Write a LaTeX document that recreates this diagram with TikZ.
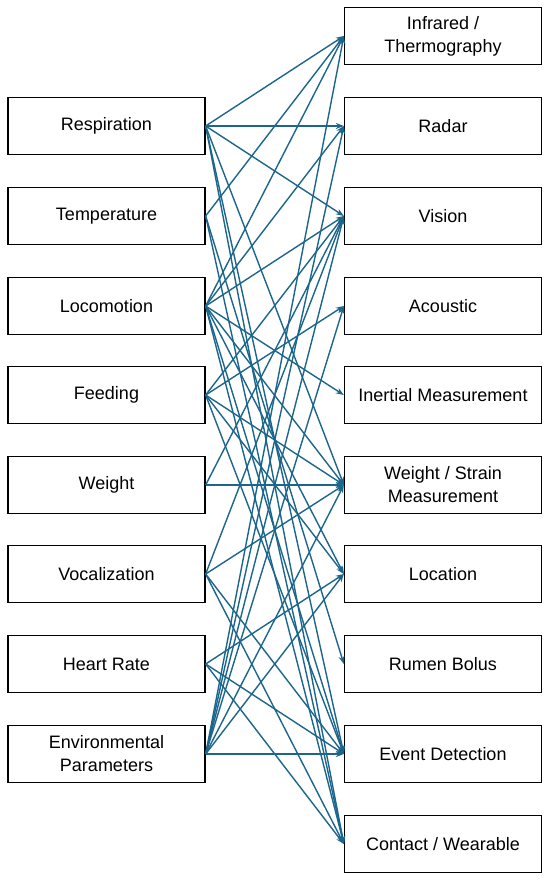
\documentclass[tikz,border=0pt]{standalone}
\usepackage{fontspec}
\setmainfont{Liberation Sans}
\usetikzlibrary{arrows.meta}
\definecolor{linkc}{RGB}{28,102,140}
\begin{document}
\begin{tikzpicture}[x=1pt,y=-1pt,
 sbox/.style={draw=black,line width=1.3pt,minimum width=197pt,minimum height=57pt,inner sep=0pt,align=center,font=\fontsize{18}{23}\selectfont},
 lnk/.style={draw=linkc,line width=1.4pt,-{Stealth[length=8pt,width=6pt]}}]
\useasboundingbox[fill=white] (0,0) rectangle (550,883);
% left
\node[sbox] (resp) at (106.5,126) {Respiration};
\node[sbox] (temp) at (106.5,216) {Temperature};
\node[sbox] (loco) at (106.5,306) {Locomotion};
\node[sbox] (feed) at (106.5,395) {Feeding};
\node[sbox] (wgt) at (106.5,485) {Weight};
\node[sbox] (voc) at (106.5,574) {Vocalization};
\node[sbox] (hr) at (106.5,664) {Heart Rate};
\node[sbox] (env) at (106.5,754) {Environmental\\Parameters};
% right
\node[sbox] (ir) at (443,36) {Infrared /\\Thermography};
\node[sbox] (rad) at (443,126) {Radar};
\node[sbox] (vis) at (443,216) {Vision};
\node[sbox] (aco) at (443,306) {Acoustic};
\node[sbox] (ine) at (443,395) {Inertial Measurement};
\node[sbox] (ws) at (443,485) {Weight / Strain\\Measurement};
\node[sbox] (loc) at (443,574) {Location};
\node[sbox] (rum) at (443,664) {Rumen Bolus};
\node[sbox] (evt) at (443,754) {Event Detection};
\node[sbox] (con) at (443,844) {Contact / Wearable};
% links
\foreach \s/\t in {resp/ir,resp/rad,resp/vis,resp/ws,resp/evt,resp/con,
  temp/ir,temp/rum,temp/con,
  loco/ir,loco/rad,loco/vis,loco/ine,loco/ws,loco/loc,loco/evt,loco/con,
  feed/vis,feed/aco,feed/ws,feed/loc,feed/evt,
  wgt/vis,wgt/ws,
  voc/vis,voc/ws,voc/evt,voc/con,
  hr/loc,hr/evt,hr/con,
  env/ir,env/rad,env/vis,env/aco,env/ws,env/loc,env/evt}
  \draw[lnk] (\s.east) -- (\t.west);
\end{tikzpicture}
\end{document}
